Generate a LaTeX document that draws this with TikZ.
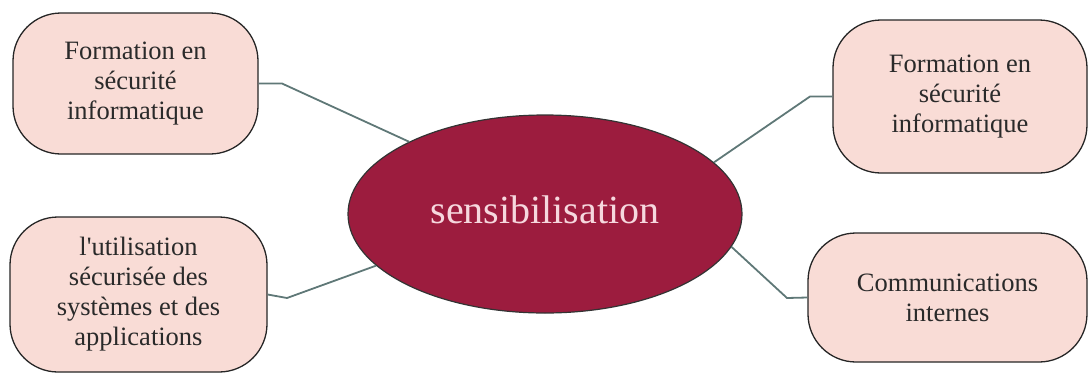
\documentclass[tikz,border=0pt]{standalone}
\usepackage{fontspec}
\setmainfont{Liberation Serif}
\usetikzlibrary{shapes.geometric}
\definecolor{boxfill}{HTML}{F9DCD6}
\definecolor{ellfill}{HTML}{9C1C3E}
\definecolor{elltext}{HTML}{F6D8DE}
\definecolor{linkcol}{HTML}{5F7877}
\definecolor{txtcol}{HTML}{2A2A2A}
\tikzset{
  topicbox/.style={draw=black!85, line width=1.3pt, fill=boxfill, rounded corners=48pt,
    align=center, text=txtcol, inner sep=0pt,
    font=\fontsize{26.5}{30}\selectfont},
  hub/.style={ellipse, draw=black!80, line width=1.2pt, fill=ellfill, text=elltext,
    minimum width=394pt, minimum height=198pt, inner sep=0pt,
    font=\fontsize{40}{44}\selectfont},
  link/.style={draw=linkcol, line width=1.8pt}
}
\begin{document}
\begin{tikzpicture}[x=1pt,y=-1pt]
\useasboundingbox (0,0) rectangle (1088,373);
\node[hub, text depth=8pt] (hub) at (545,214) {sensibilisation};
\node[topicbox, minimum width=245pt, minimum height=141pt] (tl) at (135.5,83.5)
  {Formation en\\sécurité\\informatique};
\node[topicbox, minimum width=257pt, minimum height=155pt] (bl) at (138.5,294.5)
  {l\textquotesingle utilisation\\sécurisée des\\systèmes et des\\applications};
\node[topicbox, minimum width=254pt, minimum height=153pt] (tr) at (960,96.5)
  {Formation en\\sécurité\\informatique};
\node[topicbox, minimum width=279pt, minimum height=129pt] (br) at (947.5,297.5)
  {Communications\\internes};
\coordinate (k1) at (282,83.5);
\coordinate (k2) at (287,298);
\coordinate (k3) at (810,96.5);
\coordinate (k4) at (787,298);
\draw[link] (tl.east) -- (k1) -- (hub.152);
\draw[link] (bl.east) -- (k2) -- (hub.197);
\draw[link] (tr.west) -- (k3) -- (hub.17);
\draw[link] (br.west) -- (k4) -- (hub.-10);
\end{tikzpicture}
\end{document}
